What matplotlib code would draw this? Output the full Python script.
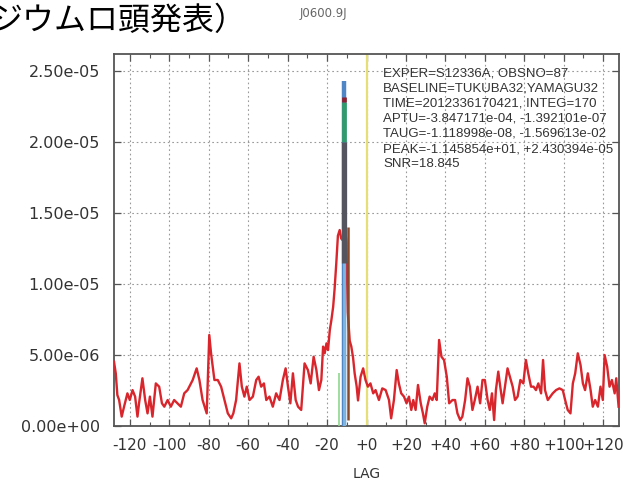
import matplotlib
matplotlib.use("Agg")
import matplotlib.pyplot as plt
from matplotlib.ticker import MultipleLocator, FuncFormatter
import numpy as np

# ---- data (amplitude in units of 1e-6) ----
lags = [-128.0, -127.1, -126.3, -125.4, -124.1, -122.9, -121.2, -120.0, -118.6, -117.3,
        -116.1, -115.3, -113.6, -112.2, -111.0, -109.8, -108.5, -106.8, -105.1, -103.7,
        -102.5, -100.8, -99.2, -97.5, -95.8, -94.1, -92.4, -90.7, -88.1, -86.1,
        -84.7, -83.1, -81.0, -79.7, -78.8, -77.1, -75.4, -73.7, -72.0, -70.3,
        -68.6, -67.5, -66.1, -64.4, -63.2, -61.9, -60.7, -59.3, -57.6, -55.9,
        -54.7, -53.4, -52.0, -50.8, -49.2, -47.5, -45.8, -44.1, -42.4, -41.0,
        -39.8, -38.6, -37.3, -35.9, -34.7, -33.1, -31.4, -29.7, -28.3, -26.8,
        -25.4, -24.1, -22.9, -22.0, -21.2, -20.3, -19.5, -18.6, -17.8, -16.9,
        -16.2, -15.3, -14.5, -13.6, -12.8, -12.2, -11.5, -10.8, -10.2, -9.5,
        -8.5, -7.7, -6.8, -6.0, -5.0, -4.3, -3.0, -1.7, -0.5, 0.7,
        2.0, 3.4, 4.6, 6.3, 8.0, 9.7, 11.4, 12.5, 13.9, 15.3,
        16.4, 17.6, 19.0, 20.3, 21.5, 22.7, 23.7, 24.9, 26.1, 27.5,
        28.6, 29.5, 30.8, 32.0, 33.4, 34.6, 35.6, 36.8, 38.0, 39.3,
        40.7, 41.9, 43.6, 44.9, 46.1, 47.5, 48.6, 50.0, 51.2, 52.4,
        53.7, 54.9, 56.3, 57.6, 58.8, 60.0, 61.4, 62.5, 63.6, 64.7,
        65.6, 66.8, 67.8, 69.0, 70.2, 71.5, 72.7, 74.1, 75.3, 76.6,
        78.0, 79.5, 80.8, 82.0, 83.4, 84.7, 85.9, 87.1, 88.5, 89.5,
        90.5, 91.9, 93.2, 94.4, 96.1, 97.8, 99.5, 100.7, 102.0, 103.4,
        104.6, 105.8, 107.1, 108.5, 109.7, 110.8, 112.2, 113.6, 114.7, 115.9,
        117.3, 118.6, 119.8, 120.7, 122.0, 123.2, 124.4, 125.8, 126.6, 127.8]
amps = [4.53, 3.71, 2.18, 1.83, 0.66, 1.36, 2.30, 1.83, 2.53, 2.07,
        0.66, 1.60, 3.36, 1.83, 0.89, 2.07, 0.66, 3.00, 2.77, 1.60,
        1.36, 1.83, 1.36, 1.83, 1.60, 1.36, 2.30, 2.53, 3.24, 4.06,
        3.24, 1.83, 0.89, 6.41, 5.12, 3.24, 3.24, 2.77, 1.83, 0.89,
        0.54, 0.89, 1.83, 4.41, 2.77, 2.07, 2.77, 1.83, 2.07, 3.24,
        3.47, 2.77, 3.00, 1.83, 2.07, 1.36, 2.30, 1.83, 3.24, 4.06,
        2.77, 1.60, 3.71, 1.83, 1.36, 1.13, 4.41, 3.94, 3.00, 4.88,
        3.94, 2.53, 3.24, 5.59, 5.12, 5.82, 5.35, 6.76, 7.46, 8.40,
        9.60, 11.5, 13.4, 13.8, 13.2, 13.1, 13.5, 13.8, 13.0, 8.0,
        6.0, 5.6, 4.8, 3.7, 2.8, 1.8, 3.47, 4.06, 3.24, 2.77,
        3.00, 2.30, 2.53, 1.83, 2.65, 2.53, 1.83, 0.54, 1.83, 3.94,
        3.00, 2.30, 2.07, 1.60, 2.07, 1.13, 1.83, 1.13, 2.89, 1.60,
        0.89, 0.19, 1.36, 2.07, 1.83, 2.30, 1.83, 6.06, 4.88, 4.65,
        3.47, 1.60, 1.83, 1.83, 0.89, 0.42, 0.66, 1.83, 3.36, 2.77,
        1.13, 1.83, 2.77, 1.60, 3.24, 3.24, 1.83, 1.13, 2.30, 0.42,
        2.53, 3.83, 2.77, 1.60, 2.77, 4.06, 3.47, 2.77, 1.83, 2.07,
        3.24, 3.00, 4.65, 3.71, 2.77, 2.77, 2.53, 3.00, 2.30, 4.65,
        2.53, 1.83, 2.07, 2.30, 2.53, 2.65, 2.53, 1.83, 1.13, 0.89,
        3.00, 3.71, 5.12, 4.30, 3.00, 2.53, 3.71, 2.53, 1.36, 1.83,
        1.36, 2.77, 1.83, 5.00, 4.18, 2.77, 3.24, 2.30, 3.36, 1.36]

# vertical marker segments near the fringe peak (lag, bottom, top) in 1e-6
seg_lags = [-13.9, -11.6, -11.6, -11.6, -11.5, -11.6, -9.3]
seg_bottoms = [0.0, 0.0, 0.0, 20.0, 11.5, 22.8, 0.4]
seg_tops = [3.7, 24.3, 13.0, 22.8, 20.0, 23.2, 14.0]
seg_colors = ['#8fd68f', '#4f86c6', '#7fb6e0', '#2f9a6a', '#55555f', '#8a2030', '#8a4a2a']
seg_widths = [1.2, 3.2, 2.0, 3.4, 3.8, 3.4, 1.8]

zero_lag = 0.0
scale = 1e-6

info_lines = ["EXPER=S12336A, OBSNO=87",
              "BASELINE=TUKUBA32,YAMAGU32",
              "TIME=2012336170421, INTEG=170",
              "APTU=-3.847171e-04, -1.392101e-07",
              "TAUG=-1.118998e-08, -1.569613e-02",
              "PEAK=-1.145854e+01, +2.430394e-05",
              "SNR=18.845"]

W, H = 635, 482
fig = plt.figure(figsize=(W / 100, H / 100), dpi=100)
ax = fig.add_axes([114 / W, (H - 426) / H, (619 - 114) / W, (426 - 54) / H])

ax.plot(lags, np.array(amps) * scale, color='#d8262c', lw=1.7, zorder=3)
ax.axvline(zero_lag, color='#e6df78', lw=1.6, zorder=2)
for lg, b, t, c, w in zip(seg_lags, seg_bottoms, seg_tops, seg_colors, seg_widths):
    ax.vlines(lg, b * scale, t * scale, colors=c, lw=w, zorder=4)

ax.set_xlim(-128, 128)
ax.set_ylim(0, 2.62e-5)
ax.xaxis.set_major_locator(MultipleLocator(20))
ax.xaxis.set_minor_locator(MultipleLocator(10))
ax.yaxis.set_major_locator(MultipleLocator(5e-6))
ax.xaxis.set_major_formatter(FuncFormatter(lambda v, p: '%+d' % int(round(v)) if round(v) != 0 else '+0'))
ax.yaxis.set_major_formatter(FuncFormatter(lambda v, p: '%.2e' % v))

ax.grid(True, which='major', color='#9a9a9a', lw=0.8, linestyle=(0, (1.5, 2.5)))
ax.tick_params(which='both', direction='in', top=True, right=True, colors='#555555',
               labelcolor='#333333')
ax.tick_params(which='major', length=5, width=0.9, labelsize=11.5)
ax.tick_params(axis='x', labelsize=11)
ax.tick_params(which='minor', length=3, width=0.8)
ax.tick_params(axis='x', pad=9)
ax.tick_params(axis='y', pad=10)
for s in ax.spines.values():
    s.set_color('#555555')
    s.set_linewidth(1.3)

ax.set_xlabel('LAG', fontsize=10, color='#333333', labelpad=10)

for i, line in enumerate(info_lines):
    fig.text(383 / W, 1 - (73 + i * 15.2) / H, line, fontsize=9.5, color='#333333',
             va='center', ha='left', family='Liberation Sans')

fig.text(-10 / W, 1 - 21 / H, 'ジウムロ頭発表）', fontsize=23, color='black', va='center',
         ha='left', family=['Noto Sans CJK JP', 'DejaVu Sans'])
fig.text(323 / W, 1 - 13 / H, 'J0600.9J', fontsize=8.5, color='#666666', va='center', ha='center')

fig.savefig('out.png', dpi=100)
